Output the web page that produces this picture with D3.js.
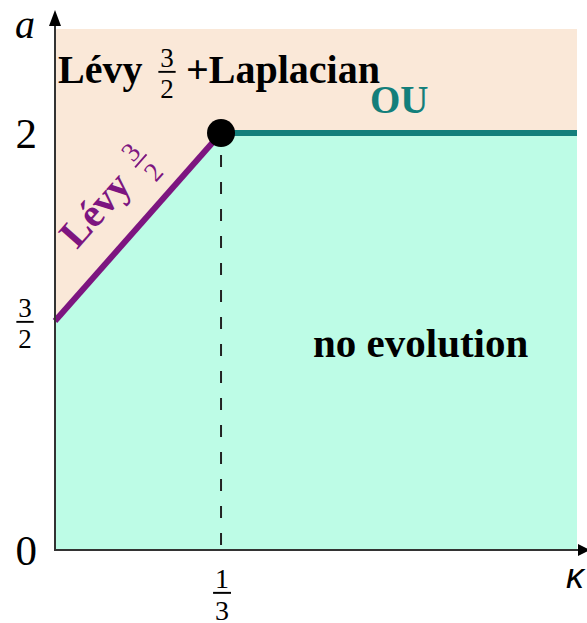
<!DOCTYPE html>
<meta charset="utf-8">
<style>
body { margin: 0; background: #fff; }
svg { display: block; }
</style>
<body>
<script src="https://cdn.jsdelivr.net/npm/d3@7"></script>
<script>

// boundary of the phase diagram (kappa, a)
var boundaryK = [0, 1 / 3, 1.048],
    boundaryA = [1.5, 2, 2];

var yTicks = [0, 1.5, 2],
    yTickNum = ["0", "3", "2"],
    yTickDen = [null, "2", null];

var xTicks = [1 / 3],
    xTickNum = ["1"],
    xTickDen = ["3"];

var kMax = 1.048, aTop = 2.277;

var width = 587, height = 623;
var SERIF = "'Liberation Serif', 'DejaVu Serif', serif";

// schematic diagram: the a-axis is not uniform, so a piecewise scale
var x = d3.scaleLinear().domain([0, kMax]).range([55, 577]);
var y = d3.scaleLinear().domain([0, 1.5, 2, aTop]).range([550, 321, 133, 29]);

var svg = d3.select("body").append("svg")
    .attr("width", width)
    .attr("height", height);

var pts = boundaryK.map(function(k, i) { return [k, boundaryA[i]]; });

// upper region
svg.append("rect")
    .attr("x", x(0))
    .attr("y", y(aTop))
    .attr("width", x(kMax) - x(0))
    .attr("height", y(0) - y(aTop))
    .attr("fill", "#fae8d8");

// lower region: no evolution
var area = d3.area()
    .x(function(d) { return x(d[0]); })
    .y0(y(0))
    .y1(function(d) { return y(d[1]); });

svg.append("path")
    .datum(pts)
    .attr("d", area)
    .attr("fill", "#bdfce6");

// dashed guide from the triple point
svg.append("line")
    .attr("x1", x(1 / 3)).attr("x2", x(1 / 3))
    .attr("y1", y(2) + 22).attr("y2", y(0))
    .attr("stroke", "#222")
    .attr("stroke-width", 2)
    .attr("stroke-dasharray", "12,15");

var line = d3.line()
    .x(function(d) { return x(d[0]); })
    .y(function(d) { return y(d[1]); });

svg.append("path")
    .datum(pts.slice(1))
    .attr("d", line)
    .attr("fill", "none")
    .attr("stroke", "#137f7b")
    .attr("stroke-width", 6);

svg.append("path")
    .datum(pts.slice(0, 2))
    .attr("d", line)
    .attr("fill", "none")
    .attr("stroke", "#7d1580")
    .attr("stroke-width", 6);

svg.append("circle")
    .attr("cx", x(1 / 3))
    .attr("cy", y(2))
    .attr("r", 14)
    .attr("fill", "#000");

// axes
svg.append("line")
    .attr("x1", x(0)).attr("x2", x(0))
    .attr("y1", y(0) + 1).attr("y2", 22)
    .attr("stroke", "#333").attr("stroke-width", 2);
svg.append("path")
    .attr("d", "M" + x(0) + ",10L" + (x(0) - 6) + ",26L" + (x(0) + 6) + ",26Z")
    .attr("fill", "#000");

svg.append("line")
    .attr("x1", x(0) - 1).attr("x2", 580)
    .attr("y1", y(0)).attr("y2", y(0))
    .attr("stroke", "#333").attr("stroke-width", 2);
svg.append("path")
    .attr("d", "M590," + y(0) + "L578," + (y(0) - 6) + "L578," + (y(0) + 6) + "Z")
    .attr("fill", "#000");

function frac(g, cx, cy, num, den, size, color) {
  var t = g.append("g").attr("fill", color);
  t.append("text")
      .attr("x", cx).attr("y", cy - size * 0.17)
      .attr("text-anchor", "middle")
      .style("font-family", SERIF)
      .style("font-size", size + "px")
      .text(num);
  t.append("rect")
      .attr("x", cx - size * 0.32).attr("y", cy - size * 0.04)
      .attr("width", size * 0.64).attr("height", Math.max(1.5, size * 0.07));
  t.append("text")
      .attr("x", cx).attr("y", cy + size * 0.95)
      .attr("text-anchor", "middle")
      .style("font-family", SERIF)
      .style("font-size", size + "px")
      .text(den);
}

function label(g, x0, y0, str, size, bold, color) {
  return g.append("text")
      .attr("x", x0).attr("y", y0)
      .attr("fill", color || "#000")
      .style("font-family", SERIF)
      .style("font-size", size + "px")
      .style("font-weight", bold ? "bold" : "normal")
      .text(str);
}

// y tick labels
yTicks.forEach(function(v, i) {
  if (yTickDen[i]) {
    frac(svg, 25, y(v) + 1, yTickNum[i], yTickDen[i], 27, "#000");
  } else {
    label(svg, 37, y(v), yTickNum[i], 43, false)
        .attr("dy", "0.35em")
        .attr("text-anchor", "end");
  }
});

// x tick labels
xTicks.forEach(function(v, i) {
  frac(svg, x(v) + 1, 593, xTickNum[i], xTickDen[i], 28, "#000");
});

// axis names
label(svg, 15, 38, "a", 40, false).style("font-style", "italic");

svg.append("text")
    .attr("x", 566).attr("y", 588)
    .style("font-family", "'Liberation Sans', sans-serif")
    .style("font-size", "36px")
    .style("font-style", "italic")
    .text("\u03ba");

// region labels
label(svg, 58, 83, "Lévy", 40, true);
frac(svg, 167, 72, "3", "2", 27, "#000");
label(svg, 186, 83, "+Laplacian", 40, true);

label(svg, 370, 113, "OU", 39, true, "#137f7b");

label(svg, 313, 357, "no evolution", 41, true);

// label along the Lévy line
var ang = Math.atan2(y(1.5) - y(2), x(1 / 3) - x(0)) * 180 / Math.PI;
var lev = svg.append("g")
    .attr("transform", "translate(77,250) rotate(" + (-ang) + ")");
label(lev, 0, 0, "Lévy", 40, true, "#7d1580");
frac(lev, 109, -11, "3", "2", 27, "#7d1580");

</script>
